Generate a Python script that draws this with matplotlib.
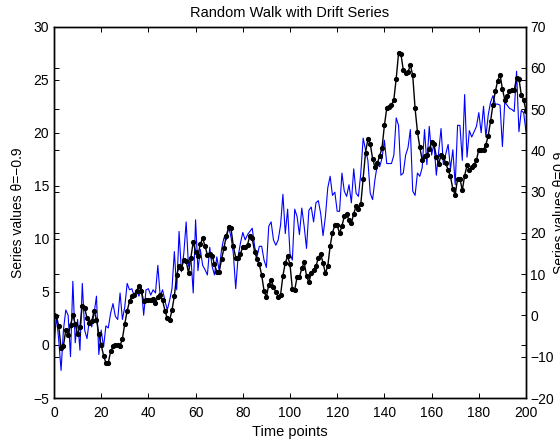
import matplotlib
matplotlib.use('Agg')
import matplotlib.pyplot as plt
import numpy as np

plt.rcParams['font.family'] = ['Liberation Sans', 'DejaVu Sans']

t = np.arange(0, 201)

# series with theta = -0.9 (left axis)
neg_theta = [
    -0.2, 2.7, 0.5, -2.4, 1.4, 3.3, 2.8, -1.1, 6.0, 0.2,
    2.4, -0.5, 5.8, 1.4, 0.6, 2.4, 1.7, 3.0, 4.6, -0.9,
    1.4, -0.2, 1.8, 1.6, 3.0, 3.9, 2.7, 2.4, 4.9, 2.4,
    3.6, 5.8, 5.2, 5.3, 4.6, 5.2, 4.6, 5.5, 2.8, 5.2,
    5.3, 4.7, 5.2, 4.9, 7.5, 4.6, 5.2, 4.2, 3.3, 4.2,
    5.3, 8.8, 5.2, 10.7, 6.9, 8.6, 11.6, 7.4, 8.3, 4.9,
    11.8, 7.0, 9.0, 7.5, 7.1, 6.6, 9.2, 7.4, 6.6, 8.3,
    7.0, 9.0, 10.1, 9.9, 11.1, 10.2, 8.6, 5.3, 8.3, 9.6,
    10.6, 9.9, 10.4, 10.7, 11.0, 9.3, 8.3, 9.3, 9.3, 8.0,
    7.3, 11.2, 11.6, 9.9, 9.4, 9.9, 11.3, 14.2, 10.5, 12.8,
    8.6, 8.0, 12.8, 12.1, 10.4, 12.9, 11.2, 9.1, 12.7, 13.0,
    11.6, 13.4, 13.6, 12.4, 10.3, 12.1, 14.8, 15.9, 14.1, 14.4,
    12.6, 12.6, 16.2, 14.5, 14.0, 15.1, 13.4, 16.6, 14.3, 14.0,
    16.2, 19.5, 18.4, 17.4, 14.3, 13.7, 15.6, 17.0, 16.8, 17.6,
    19.3, 17.1, 17.1, 17.1, 17.9, 21.4, 20.7, 16.0, 16.2, 17.9,
    18.6, 20.3, 14.5, 14.1, 16.2, 15.9, 16.7, 20.3, 17.0, 20.6,
    17.9, 19.0, 16.0, 18.2, 20.4, 17.0, 18.0, 18.9, 16.6, 18.4,
    15.1, 20.7, 20.7, 17.4, 23.6, 17.7, 20.2, 19.6, 20.1, 20.6,
    21.9, 20.0, 22.5, 19.6, 21.7, 22.9, 23.5, 22.7, 22.7, 22.6,
    18.7, 22.9, 22.6, 22.3, 22.2, 22.0, 25.8, 20.1, 22.1, 21.9,
    20.1,
]

# series with theta = 0.9 (right axis)
pos_theta = [
    0.1, -0.2, -2.5, -7.9, -7.4, -3.5, -4.8, -2.4, 0.1, -2.0,
    -4.6, -2.8, 2.4, 1.9, -0.7, -1.7, -1.4, 1.1, -1.0, -4.6,
    -7.1, -9.7, -11.5, -11.5, -8.7, -7.5, -7.1, -7.1, -7.4, -5.6,
    -2.0, 1.1, 3.4, 4.7, 5.0, 6.0, 7.1, 6.0, 3.4, 3.7,
    3.8, 3.7, 3.9, 3.1, 4.4, 5.0, 3.7, 1.2, -0.7, -1.2,
    1.3, 4.7, 9.8, 11.9, 11.4, 13.4, 13.2, 10.3, 14.0, 17.9,
    15.5, 14.5, 17.3, 18.7, 16.8, 14.7, 15.0, 14.5, 12.4, 10.6,
    10.6, 13.6, 16.3, 19.3, 21.4, 21.1, 16.8, 14.0, 14.0, 15.0,
    16.6, 16.6, 17.2, 19.3, 18.7, 15.5, 13.7, 12.4, 9.8, 6.0,
    4.4, 7.5, 8.5, 7.0, 5.7, 4.6, 5.0, 9.6, 12.8, 14.3,
    12.4, 6.4, 6.2, 9.3, 9.3, 11.4, 12.9, 9.6, 8.0, 10.3,
    11.1, 11.9, 14.0, 15.0, 12.7, 10.3, 11.9, 16.8, 20.1, 21.9,
    21.9, 19.9, 21.7, 24.0, 24.5, 23.2, 22.3, 24.7, 26.5, 25.8,
    27.0, 33.2, 39.5, 42.7, 41.6, 38.0, 36.0, 36.9, 38.7, 40.6,
    46.1, 50.2, 50.5, 51.0, 52.3, 57.4, 63.6, 63.4, 59.5, 58.7,
    59.0, 60.7, 58.2, 50.2, 44.5, 40.8, 37.7, 38.6, 38.8, 40.3,
    42.0, 41.5, 38.5, 36.8, 38.8, 38.5, 36.9, 35.3, 33.7, 30.6,
    29.2, 33.2, 33.2, 30.3, 33.9, 36.4, 35.3, 36.1, 36.5, 37.7,
    40.2, 40.2, 40.2, 41.4, 43.6, 47.2, 51.1, 54.3, 56.9, 58.4,
    54.9, 52.3, 53.1, 54.5, 54.7, 54.6, 57.6, 57.4, 53.5, 52.3,
    49.5,
]

fig = plt.figure(figsize=(5.6, 4.41), dpi=100)
ax1 = fig.add_axes([0.0964, 0.0975, 0.8429, 0.842])
ax2 = ax1.twinx()

ax1.plot(t, neg_theta, color='#0000ff', linewidth=0.8)
ax2.plot(t, pos_theta, color='black', linewidth=1.0, marker='.', markersize=5.5)

ax1.set_xlim(0, 200)
ax1.set_ylim(-5, 30)
ax2.set_ylim(-20, 70)
ax1.set_xticks(np.arange(0, 201, 20))
ax1.set_yticks(np.arange(-5, 31, 5))
ax2.set_yticks(np.arange(-20, 71, 10))

fs = 10
ax1.tick_params(axis='both', direction='in', length=3.5, width=0.7,
                labelsize=fs, top=True, right=True, labelright=False)
ax1.tick_params(axis='y', pad=3.5)
ax1.tick_params(axis='x', pad=6)
ax2.tick_params(axis='y', direction='in', length=3.5, width=0.7,
                labelsize=fs, left=True, right=True, labelleft=False, pad=3)
ax2.tick_params(axis='x', bottom=False, top=False, labelbottom=False)

for ax in (ax1, ax2):
    for s in ax.spines.values():
        s.set_linewidth(1.0)

ax1.set_title('Random Walk with Drift Series', fontsize=10.5, pad=7)
ax1.set_xlabel('Time points', fontsize=10.5, labelpad=3)
ax1.set_ylabel('Series values θ=−0.9', fontsize=fs)
ax2.set_ylabel('Series values θ=0.9', fontsize=fs)
ax1.yaxis.set_label_coords(-0.061, 0.5)
ax2.yaxis.set_label_coords(1.057, 0.5)

fig.savefig('out.png', dpi=100)
